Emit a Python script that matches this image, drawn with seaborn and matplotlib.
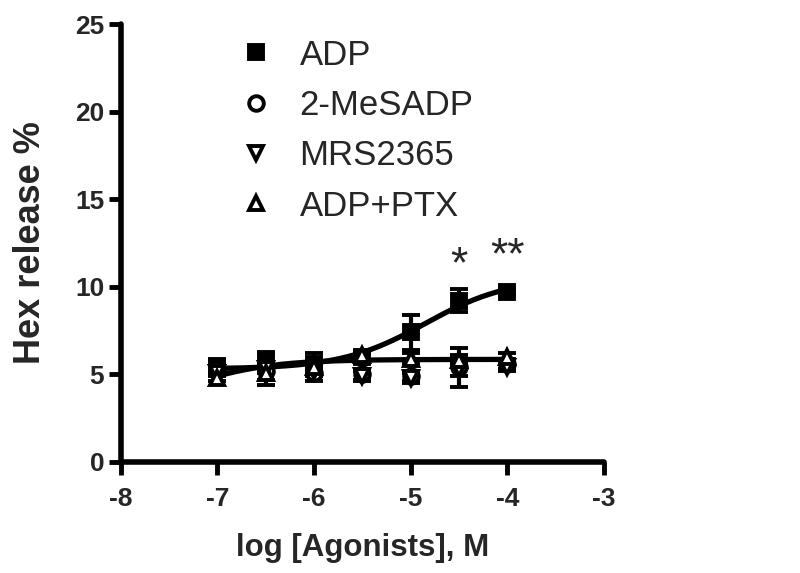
import numpy as np
import pandas as pd
import matplotlib
matplotlib.use("Agg")
import matplotlib.pyplot as plt
import seaborn as sns
from matplotlib.lines import Line2D

# log concentration of agonist
log_conc = [-7, -6.5, -6, -5.5, -5, -4.5, -4]

# mean Hex release % and error
adp = [5.5, 5.7, 5.6, 6.0, 7.4, 9.2, 9.7]
adp_err = [0.3, 0.6, 0.6, 0.3, 1.0, 0.65, 0.2]
mesadp = [5.3, 5.2, 5.1, 5.0, 4.9, 5.4, 5.6]
mesadp_err = [0.2, 0.5, 0.5, 0.3, 0.3, 1.1, 0.3]
mrs = [5.1, 5.3, 5.2, 4.9, 4.8, 5.3, 5.4]
mrs_err = [0.2, 0.9, 0.3, 0.3, 0.3, 0.4, 0.2]
ptx = [4.8, 5.1, 5.4, 6.1, 5.9, 5.8, 6.0]
ptx_err = [0.2, 0.4, 0.3, 0.2, 0.3, 0.3, 0.2]

# fitted sigmoid parameters (bottom, top, logEC50, hill)
adp_fit = (5.3, 10.5, -4.85, 1.0)
ptx_fit = (3.0, 5.85, -7.3, 1.0)

series = ["ADP", "2-MeSADP", "MRS2365", "ADP+PTX"]
stars = ["*", "**"]
star_x = [-4.5, -4]
star_y = [11.2, 11.7]

sns.set_style("ticks")
plt.rcParams['font.family'] = ['Liberation Sans', 'DejaVu Sans']
plt.rcParams['axes.unicode_minus'] = False

fig = plt.figure(figsize=(8, 5.73), dpi=100)
ax = fig.add_axes([0.151, 0.194, 0.604, 0.764])


def sigmoid(x, p):
    b, t, ec, h = p
    return b + (t - b) / (1 + 10 ** ((ec - x) * h))


xs = np.linspace(-7, -4, 200)
curves = pd.DataFrame({
    "x": np.concatenate([xs, xs]),
    "y": np.concatenate([sigmoid(xs, adp_fit), sigmoid(xs, ptx_fit)]),
    "fit": ["ADP"] * len(xs) + ["ADP+PTX"] * len(xs),
})
sns.lineplot(data=curves, x="x", y="y", units="fit", estimator=None,
             color="black", lw=3.8, ax=ax, legend=False)

styles = [
    (adp, adp_err, "s", "black"),
    (mesadp, mesadp_err, "o", "white"),
    (mrs, mrs_err, "v", "white"),
    (ptx, ptx_err, "^", "white"),
]
handles = []
for name, (vals, err, mk, fc) in zip(series, styles):
    ax.errorbar(log_conc, vals, yerr=err, fmt=mk, color="black", mfc=fc,
                mec="black", mew=2.8, ms=10.5, elinewidth=3, capsize=6.5,
                capthick=3, zorder=3)
    handles.append(Line2D([], [], ls="none", marker=mk, color="black",
                          mfc=fc, mec="black", mew=2.8, ms=10.5, label=name))

for s, x, y in zip(stars, star_x, star_y):
    ax.text(x, y, s, ha="center", va="center", fontsize=32)

ax.legend(handles=handles, loc="upper left", bbox_to_anchor=(0.244, 0.967),
          frameon=False, fontsize=25, handlelength=1.0, handletextpad=0.75,
          labelspacing=0.5, borderaxespad=0, borderpad=0)

ax.set_xlim(-8, -3)
ax.set_ylim(0, 25)
ax.set_xticks([-8, -7, -6, -5, -4, -3])
ax.set_yticks([0, 5, 10, 15, 20, 25])
ax.set_xlabel("log [Agonists], M", fontsize=22.5, fontweight="bold", labelpad=16)
ax.set_ylabel("Hex release %", fontsize=26, fontweight="bold", labelpad=19)
for lab in ax.get_xticklabels() + ax.get_yticklabels():
    lab.set_fontweight("bold")
ax.tick_params(labelsize=19, width=3.5, length=9, color="black")
ax.tick_params(axis="x", pad=9)
ax.tick_params(axis="y", pad=3)
sns.despine(ax=ax)
for sp in ["left", "bottom"]:
    ax.spines[sp].set_linewidth(4)
    ax.spines[sp].set_color("black")
    ax.spines[sp].set_capstyle("round")

fig.savefig("out.png", dpi=100)
